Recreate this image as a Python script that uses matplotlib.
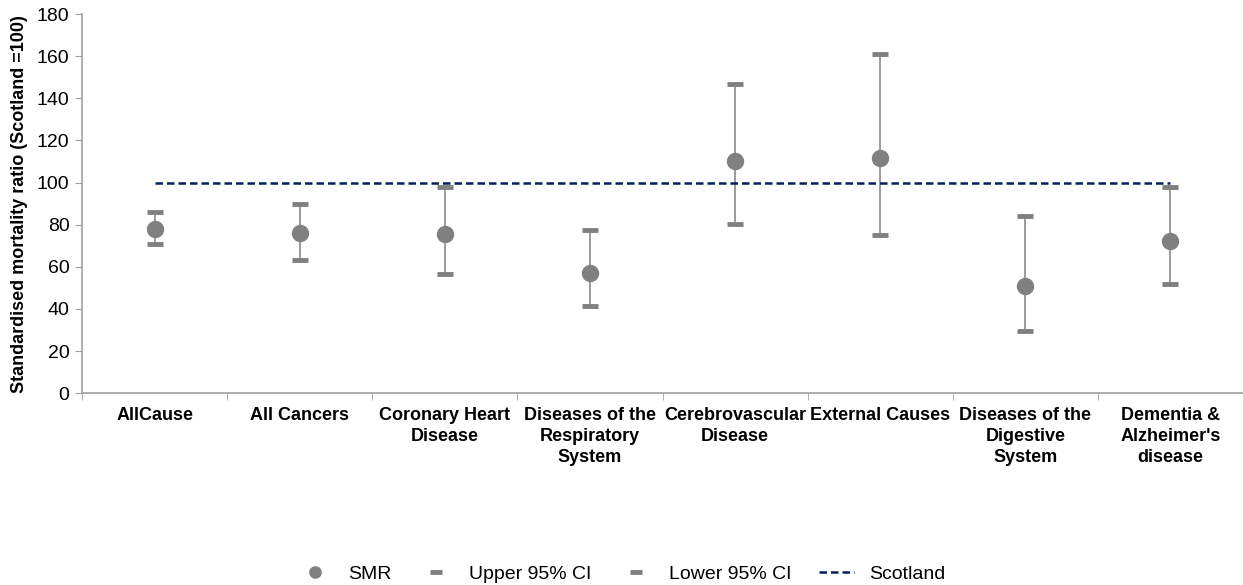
import matplotlib.pyplot as plt
import numpy as np

plt.rcParams['font.family'] = ['Liberation Sans', 'DejaVu Sans']

categories = ['AllCause', 'All Cancers', 'Coronary Heart\nDisease',
              'Diseases of the\nRespiratory\nSystem', 'Cerebrovascular\nDisease',
              'External Causes', 'Diseases of the\nDigestive\nSystem',
              "Dementia &\nAlzheimer's\ndisease"]
smr = [78, 76, 75.5, 57, 110, 111.5, 51, 72]
upper = [86, 90, 98, 77.5, 147, 161, 84, 98]
lower = [71, 63, 56.5, 41.5, 80.5, 75, 29.5, 52]
scotland = [100] * len(categories)

grey = '#808080'
fig = plt.figure(figsize=(12.43, 5.85), dpi=100)
ax = fig.add_axes([0.066, 0.328, 0.934, 0.648])

x = np.arange(len(categories))
ax.vlines(x, lower, upper, color=grey, lw=1.1, zorder=2)
ax.plot(x, upper, ls='none', marker='_', ms=11.5, mew=3.5, color=grey, label='Upper 95% CI', zorder=3)
ax.plot(x, lower, ls='none', marker='_', ms=11.5, mew=3.5, color=grey, label='Lower 95% CI', zorder=3)
ax.plot(x, smr, ls='none', marker='o', ms=11.5, color=grey, label='SMR', zorder=4)
ax.plot(x, scotland, ls=(0, (3, 1.6)), lw=1.8, color='#002060', label='Scotland', zorder=3)

ax.set_xlim(-0.5, len(categories) - 0.5)
ax.set_ylim(0, 180)
ax.set_yticks(range(0, 181, 20))
ax.tick_params(axis='y', labelsize=14, length=5, color='#a0a0a0', pad=4)
ax.set_xticks(x)
ax.set_xticklabels(categories, fontsize=13, fontweight='bold', linespacing=1.3)
ax.tick_params(axis='x', length=0, pad=10)
ax.set_xticks(np.arange(-0.5, len(categories)), minor=True)
ax.tick_params(axis='x', which='minor', length=5, color='#a0a0a0')
for s in ['top', 'right']:
    ax.spines[s].set_visible(False)
for s in ['left', 'bottom']:
    ax.spines[s].set_color('#a0a0a0')
    ax.spines[s].set_linewidth(1.2)
ax.set_ylabel('Standardised mortality ratio (Scotland =100)', fontsize=13, fontweight='bold', labelpad=6)

h, l = ax.get_legend_handles_labels()
order = [2, 0, 1, 3]
fig.legend([h[i] for i in order], [l[i] for i in order], loc='lower center',
           bbox_to_anchor=(0.5, -0.026), ncol=4, frameon=False, fontsize=14,
           handlelength=1.8, handletextpad=0.8, columnspacing=1.4, markerscale=0.7)

fig.savefig('out.png', dpi=100)
